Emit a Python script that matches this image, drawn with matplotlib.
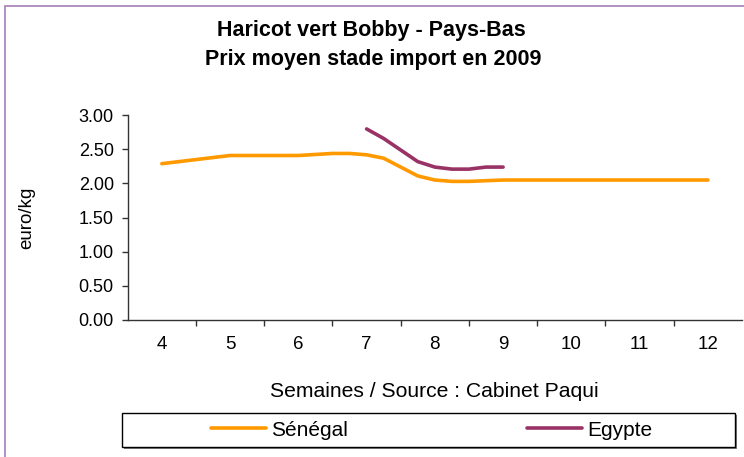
import matplotlib
matplotlib.use("Agg")
from matplotlib import pyplot as plt
from matplotlib.patches import Rectangle

plt.rcParams['font.family'] = ['Liberation Sans', 'DejaVu Sans']

# weeks shown on the category axis
weeks = [4, 5, 6, 7, 8, 9, 10, 11, 12]

# Senegal prices (euro/kg) at week positions
senegal_x = [4.0, 5.0, 6.0, 6.5, 6.75, 7.0, 7.25, 7.75, 8.0, 8.25, 8.5, 9.0, 10.0, 11.0, 12.0]
senegal_y = [2.29, 2.41, 2.41, 2.44, 2.44, 2.42, 2.37, 2.11, 2.05, 2.03, 2.03, 2.05, 2.05, 2.05, 2.05]

# Egypt prices (euro/kg)
egypte_x = [7.0, 7.25, 7.75, 8.0, 8.25, 8.5, 8.75, 9.0]
egypte_y = [2.80, 2.66, 2.32, 2.24, 2.21, 2.21, 2.24, 2.24]

yticks = [0.0, 0.5, 1.0, 1.5, 2.0, 2.5, 3.0]

W, H = 744, 457
fig = plt.figure(figsize=(W / 100, H / 100), dpi=100)

# outer frame (only left and top edges fall inside the picture)
fig.patches.append(Rectangle((5 / W, -0.5), 2, 1.5 - 6 / H, transform=fig.transFigure,
                             fill=False, edgecolor='#a57db7', linewidth=1.2))

ax = fig.add_axes([127.7 / W, 1 - 319.7 / H, (742 - 127.7) / W, (319.7 - 115.3) / H])

l1, = ax.plot(senegal_x, senegal_y, color='#ff9900', linewidth=2.6,
              solid_capstyle='round', solid_joinstyle='round', label='Sénégal')
l2, = ax.plot(egypte_x, egypte_y, color='#993366', linewidth=2.6,
              solid_capstyle='round', solid_joinstyle='round', label='Egypte')

ax.set_xlim(weeks[0] - 0.5, weeks[-1] + 0.5)
ax.set_ylim(0, 3)
ax.set_yticks(yticks)
ax.set_yticklabels(['%.2f' % v for v in yticks])
ax.set_xticks(weeks)
ax.set_xticklabels([str(w) for w in weeks])
ax.set_xticks([w + 0.5 for w in weeks[:-1]], minor=True)

for s in ['top', 'right']:
    ax.spines[s].set_visible(False)
for s in ['left', 'bottom']:
    ax.spines[s].set_color('#333333')
    ax.spines[s].set_linewidth(1.0)

ax.tick_params(axis='y', direction='out', length=4, width=1, color='#333333',
               labelsize=13, pad=6)
ax.tick_params(axis='x', which='major', length=0, labelsize=13.5, pad=12)
ax.tick_params(axis='x', which='minor', direction='out', length=4, width=1, color='#333333')

fig.text(371 / W, 1 - 30.7 / H, 'Haricot vert Bobby - Pays-Bas',
         ha='center', va='center', fontsize=15.5, fontweight='bold')
fig.text(373 / W, 1 - 59 / H, 'Prix moyen stade import en 2009',
         ha='center', va='center', fontsize=15.5, fontweight='bold')
fig.text(434 / W, 1 - 391.7 / H, 'Semaines / Source : Cabinet Paqui',
         ha='center', va='center', fontsize=15.2)
fig.text(26.7 / W, 1 - 217.5 / H, 'euro/kg', ha='center', va='center',
         rotation=90, fontsize=13.5)

# legend box with a small shadow
fig.patches.append(Rectangle((124 / W, 1 - 449 / H), 613 / W, 34 / H,
                             transform=fig.transFigure, facecolor='#808080',
                             edgecolor='none'))
fig.patches.append(Rectangle((122 / W, 1 - 447 / H), 613 / W, 34 / H,
                             transform=fig.transFigure, facecolor='white',
                             edgecolor='black', linewidth=1.0))
fig.legend(handles=[l1, l2], loc='center left', bbox_to_anchor=(211 / W, 1 - 430 / H),
           ncol=2, frameon=False, fontsize=15, borderpad=0, borderaxespad=0,
           handlelength=2.64, handletextpad=0.25, columnspacing=8.6)

fig.savefig('out.png', dpi=100)
